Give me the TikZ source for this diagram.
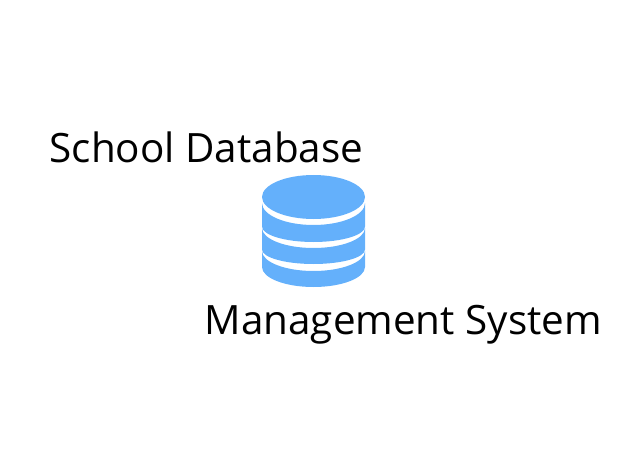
\documentclass[tikz,border=0pt]{standalone}
\usepackage{fontspec}
\setmainfont{Open Sans}
\usepackage{xcolor}
\usepackage{tikz}
\definecolor{dbblue}{HTML}{64B0FB}

\begin{document}
\begin{tikzpicture}[
  x=1pt, y=1pt,
  caption/.style={anchor=base west, inner sep=0pt, font=\fontsize{40.4}{48}\selectfont},
  disc/.style={fill=dbblue, draw=none}]
\useasboundingbox (0,0) rectangle (640,-468);
\node[caption] (title) at (49.5,-163) {School Database};
\node[caption] (system) at (204.5,-334) {Management System};
% top of the stack
\fill[disc] (313.5,-197) ellipse [x radius=51.5, y radius=22];
% three bands below it
\foreach \ytop/\rtop/\ybot/\rbot in {203/22/226.5/15.5, 228/20/249.5/14.5, 251/20/267/20}
  \fill[disc] (262,-\ytop) arc [start angle=180, end angle=360, x radius=51.5, y radius=\rtop]
    -- (365,-\ybot) arc [start angle=0, end angle=-180, x radius=51.5, y radius=\rbot] -- cycle;
\end{tikzpicture}
\end{document}
